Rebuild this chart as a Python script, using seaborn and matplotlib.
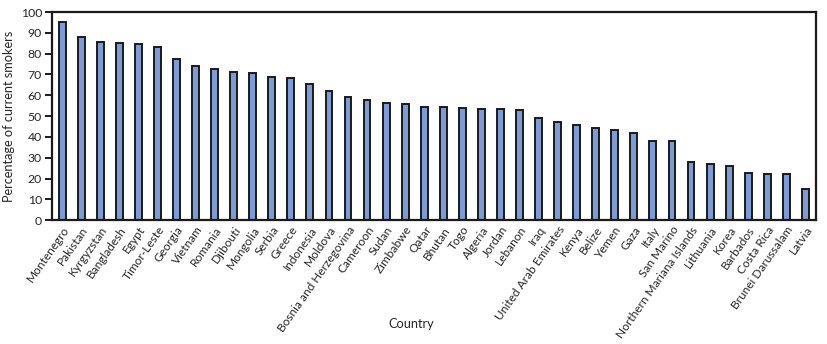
import matplotlib
matplotlib.use("Agg")
import matplotlib.pyplot as plt
import seaborn as sns
import pandas as pd

countries = [
    "Montenegro", "Pakistan", "Kyrgyzstan", "Bangladesh", "Egypt", "Timor-Leste",
    "Georgia", "Vietnam", "Romania", "Djibouti", "Mongolia", "Serbia", "Greece",
    "Indonesia", "Moldova", "Bosnia and Herzegovina", "Cameroon", "Sudan",
    "Zimbabwe", "Qatar", "Bhutan", "Togo", "Algeria", "Jordan", "Lebanon", "Iraq",
    "United Arab Emirates", "Kenya", "Belize", "Yemen", "Gaza", "Italy",
    "San Marino", "Northern Mariana Islands", "Lithuania", "Korea", "Barbados",
    "Costa Rica", "Brunei Darussalam", "Latvia",
]
smokers_pct = [
    95.2, 88.0, 85.6, 85.1, 84.6, 83.1, 77.4, 74.0, 72.6, 71.1, 70.6, 68.7, 68.2,
    65.3, 62.0, 59.4, 57.6, 56.5, 56.0, 54.6, 54.6, 54.1, 53.6, 53.3, 52.8, 49.0,
    47.4, 45.9, 44.1, 43.5, 42.1, 38.2, 37.8, 27.8, 27.1, 25.8, 22.8, 22.3, 22.0,
    15.1,
]
y_ticks = list(range(0, 101, 10))

df = pd.DataFrame({"Country": countries, "Percentage": smokers_pct})

sns.set_style("white")
plt.rcParams["font.family"] = ["Lato", "DejaVu Sans"]

fig = plt.figure(figsize=(8.27, 3.44), dpi=100)
ax = fig.add_axes([0.0625, 0.36, 0.924, 0.605])

sns.barplot(data=df, x="Country", y="Percentage", color="#7f9bd6",
            edgecolor="#1a1a1a", linewidth=1.4, width=0.36, saturation=1,
            ax=ax)

ax.set_ylim(0, 100)
ax.set_xlim(-0.55, len(countries) - 0.45)
ax.set_yticks(y_ticks)
ax.set_yticklabels([str(t) for t in y_ticks], fontsize=8.8)
ax.set_xticks(range(len(countries)))
ax.set_xticklabels(countries, rotation=55, ha="right", rotation_mode="anchor",
                   fontsize=8.6)
ax.tick_params(axis="y", direction="out", length=5, width=1.4, pad=2,
               left=True, color="#1a1a1a")
ax.tick_params(axis="x", length=0, pad=3)

for side in ["left", "right", "top", "bottom"]:
    ax.spines[side].set_visible(True)
    ax.spines[side].set_linewidth(1.6)
    ax.spines[side].set_color("#1a1a1a")

ax.set_ylabel("Percentage of current smokers", fontsize=9.2, labelpad=4)
ax.set_xlabel("Country", fontsize=9.2)
ax.xaxis.set_label_coords(0.47, -0.47)

fig.savefig("out.png", dpi=100)
